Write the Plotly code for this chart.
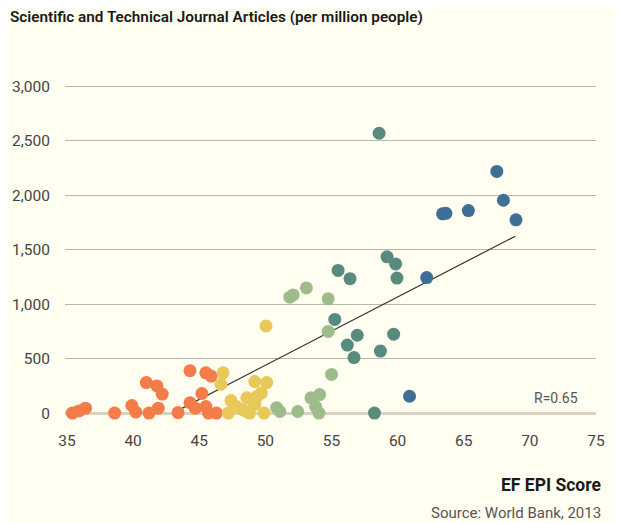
import plotly.graph_objects as go

# EF EPI score (x) vs journal articles per million people (y), grouped by band
orange_x = [35.4, 35.9, 36.4, 38.6, 39.9, 40.2, 41.0, 41.2, 41.8, 42.2, 41.9,
            43.4, 44.3, 44.7, 44.3, 45.5, 45.9, 45.2, 45.5, 45.7, 46.3]
orange_y = [0, 20, 45, 0, 70, 10, 280, 0, 250, 175, 45,
            5, 95, 45, 390, 370, 340, 180, 60, 0, 0]

yellow_x = [46.8, 46.65, 50.05, 49.2, 50.1, 49.7, 49.35, 48.6, 49.2, 47.4,
            47.8, 48.3, 48.8, 47.2, 49.9, 48.5]
yellow_y = [370, 265, 800, 290, 280, 185, 150, 140, 80, 115,
            60, 30, 0, 0, 0, 20]

lgreen_x = [50.85, 51.1, 52.45, 53.45, 54.1, 53.8, 54.05, 55.0, 54.75, 54.75,
            51.85, 52.1, 53.1]
lgreen_y = [50, 15, 15, 140, 170, 60, 0, 355, 750, 1050,
            1065, 1085, 1150]

teal_x = [58.6, 55.5, 56.4, 59.2, 59.85, 59.95, 55.25, 56.95, 56.2, 56.7,
          59.7, 58.7, 58.25]
teal_y = [2570, 1310, 1235, 1435, 1370, 1240, 860, 715, 625, 510,
          725, 570, 0]

blue_x = [62.2, 60.9, 63.4, 63.65, 65.35, 67.5, 68.0, 68.95]
blue_y = [1245, 155, 1830, 1835, 1860, 2220, 1955, 1775]

trend_x = [43.0, 68.9]
trend_y = [0, 1625]

x_ticks = [35, 40, 45, 50, 55, 60, 65, 70, 75]
y_ticks = [0, 500, 1000, 1500, 2000, 2500, 3000]

BG = "#FFFEF0"
TXT = "#1a1a1a"
GRID = "#B9B7A8"
FONT = "Roboto, 'DejaVu Sans', sans-serif"

groups = [
    (orange_x, orange_y, "#F47C48"),
    (yellow_x, yellow_y, "#E9C85A"),
    (lgreen_x, lgreen_y, "#9DBC89"),
    (teal_x, teal_y, "#588A7E"),
    (blue_x, blue_y, "#3F6E96"),
]

fig = go.Figure()
fig.add_trace(go.Scatter(x=trend_x, y=trend_y, mode="lines",
                         line=dict(color="#333333", width=1.2),
                         hoverinfo="skip"))
for gx, gy, col in groups:
    fig.add_trace(go.Scatter(x=gx, y=gy, mode="markers", cliponaxis=False,
                             marker=dict(color=col, size=13, line=dict(width=0))))

# title / labels (page body adds 8px offset, so figure is 8px smaller)
fig.add_annotation(text="Scientific and Technical Journal Articles (per million people)",
                   xref="paper", yref="paper", x=-0.1073, y=1.0, yshift=64,
                   xanchor="left", yanchor="middle", showarrow=False,
                   font=dict(family=FONT, size=15.3, color=TXT, weight=600))
fig.add_annotation(text="R=0.65", xref="paper", yref="y", x=0.970, y=140,
                   xanchor="right", yanchor="middle", showarrow=False,
                   font=dict(family=FONT, size=14, color="#555555"))
fig.add_annotation(text="EF EPI Score", xref="paper", yref="paper", x=1.0132, y=0, yshift=-61,
                   xanchor="right", yanchor="middle", showarrow=False,
                   font=dict(family=FONT, size=17.5, color=TXT, weight=700))
fig.add_annotation(text="Source: World Bank, 2013", xref="paper", yref="paper",
                   x=1.0132, y=0, yshift=-89, xanchor="right", yanchor="middle",
                   showarrow=False, font=dict(family=FONT, size=15, color="#555555"))

fig.update_layout(
    width=614, height=515,
    paper_bgcolor=BG, plot_bgcolor=BG,
    showlegend=False,
    margin=dict(l=57, r=26, t=73, b=99),
    font=dict(family=FONT, size=15.5, color="#444444"),
    xaxis=dict(range=[34.85, 75], tickvals=x_ticks, showgrid=False, zeroline=False,
               showline=False, ticks="outside", ticklen=2, tickcolor=BG,
               automargin=False),
    yaxis=dict(range=[-100, 3050], tickvals=y_ticks, tickformat=",",
               showgrid=True, gridcolor=GRID, gridwidth=1.2,
               zeroline=True, zerolinecolor="#D6D3C0", zerolinewidth=3,
               showline=False, ticks="outside", ticklen=11, tickcolor=BG,
               automargin=False),
)

fig.write_html("out.html")
